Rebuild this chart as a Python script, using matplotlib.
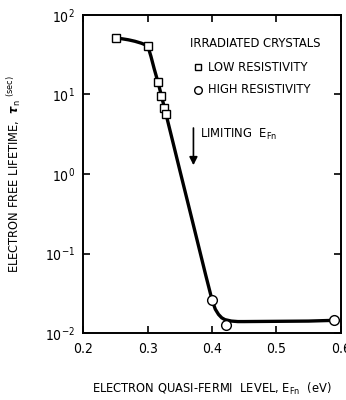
import matplotlib
matplotlib.use('Agg')
import matplotlib.pyplot as plt
import numpy as np

# data
low_x = [0.251, 0.300, 0.316, 0.321, 0.3255, 0.328]
low_y = [50.6, 40.8, 14.2, 9.5, 6.8, 5.6]
high_x = [0.400, 0.421, 0.589]
high_y = [0.026, 0.0128, 0.0145]

# hand-drawn smooth curve through the data
curve_x = [0.251, 0.26, 0.27, 0.28, 0.29, 0.300, 0.305, 0.310, 0.316, 0.321, 0.328,
           0.34, 0.35, 0.36, 0.37, 0.38, 0.39, 0.400, 0.405, 0.41, 0.415, 0.42,
           0.43, 0.44, 0.45, 0.50, 0.55, 0.589]
curve_y = [50.6, 50.0, 48.5, 46.5, 44.0, 40.8, 30.0, 21.0, 14.2, 9.8, 5.8,
           2.35, 1.1, 0.52, 0.245, 0.115, 0.054, 0.026, 0.020, 0.0172, 0.0156, 0.0148,
           0.0142, 0.0140, 0.0140, 0.0141, 0.0142, 0.0145]

plt.rcParams['font.family'] = ['DejaVu Sans']
plt.rcParams['font.stretch'] = 'condensed'
plt.rcParams['mathtext.fontset'] = 'custom'
plt.rcParams['mathtext.rm'] = 'DejaVu Sans'

fig = plt.figure(figsize=(3.46, 4.0), dpi=100)
ax = fig.add_axes([0.241, 0.167, 0.744, 0.796])

ax.plot(curve_x, curve_y, color='black', lw=2.4, zorder=2)
ax.plot(low_x, low_y, ls='none', marker='s', ms=6, mfc='white', mec='black', mew=1.0, zorder=3)
ax.plot(high_x, high_y, ls='none', marker='o', ms=7, mfc='white', mec='black', mew=1.0, zorder=3)

ax.set_yscale('log')
ax.set_xlim(0.2, 0.6)
ax.set_ylim(1e-2, 1e2)
ax.set_xticks([0.2, 0.3, 0.4, 0.5, 0.6])
ax.set_xticklabels(['0.2', '0.3', '0.4', '0.5', '0.6'])
ax.set_yticks([1e-2, 1e-1, 1e0, 1e1, 1e2])
ax.set_yticklabels(['$10^{-2}$', '$10^{-1}$', '$10^{0}$', '$10^{1}$', '$10^{2}$'])
ax.minorticks_off()
ax.tick_params(direction='in', length=5, width=1.2, top=True, right=True,
               labelsize=10, pad=6)
for s in ax.spines.values():
    s.set_linewidth(1.4)

fs = 9.3
ax.text(0.366, 44, 'IRRADIATED CRYSTALS', fontsize=fs, va='center')
ax.plot([0.378], [22], ls='none', marker='s', ms=5, mfc='white', mec='black', mew=1.0)
ax.text(0.394, 22, 'LOW RESISTIVITY', fontsize=fs, va='center')
ax.plot([0.378], [11.4], ls='none', marker='o', ms=5.5, mfc='white', mec='black', mew=1.0)
ax.text(0.394, 11.4, 'HIGH RESISTIVITY', fontsize=fs, va='center')

ax.annotate('', xy=(0.371, 1.19), xytext=(0.371, 4.1),
            arrowprops=dict(arrowstyle='-|>', color='black', lw=1.2, mutation_scale=12))
ax.text(0.381, 3.1, 'LIMITING  E$_{\\mathregular{Fn}}$', fontsize=fs, va='center')

ax.set_xlabel('ELECTRON QUASI-FERMI  LEVEL, E$_{\\mathregular{Fn}}$  (eV)', fontsize=9.2, labelpad=18)
ax.set_ylabel('ELECTRON FREE LIFETIME,  $\\boldsymbol{\\tau}_{\\mathregular{n}}$ $^{\\mathregular{(sec)}}$',
              fontsize=9.2, labelpad=16)

plt.savefig('out.png', dpi=100)
plt.close()
